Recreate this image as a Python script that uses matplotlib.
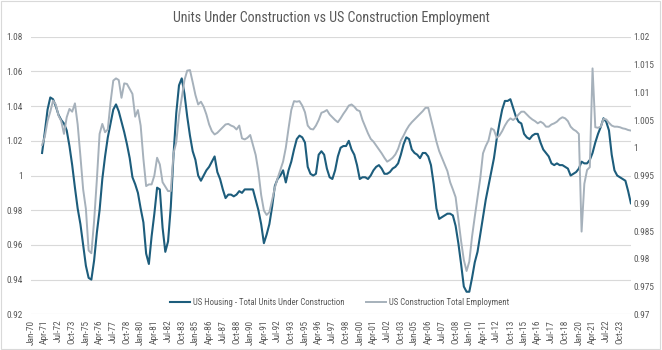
import numpy as np
import pandas as pd
import matplotlib
matplotlib.use("Agg")
import matplotlib.pyplot as plt
from matplotlib import font_manager as fm
from matplotlib.patches import Rectangle

# narrow font if one is installed, otherwise Liberation Sans
fonts = fm.fontManager.ttflist
names = {f.name for f in fonts}
family, stretch = "Liberation Sans", "normal"
for cand in ["Liberation Sans Narrow", "Roboto Condensed", "Open Sans Condensed",
             "Noto Sans Condensed", "DejaVu Sans Condensed"]:
    if cand in names:
        family = cand
        break
else:
    for f in fonts:
        fn = f.fname
        if ("Condensed" in fn or "Narrow" in fn) and not any(
                k in fn for k in ("Bold", "Oblique", "Italic", "Light", "Thin", "Black", "Medium", "Semi", "Extra")):
            family, stretch = f.name, "condensed"
            break
plt.rcParams["font.family"] = [family, "DejaVu Sans"]
plt.rcParams["font.stretch"] = stretch

# monthly category axis Jan-70 .. Oct-24, labelled every 15 months
first_month = "1970-01"
n_months = 658
label_step = 15

# quarterly readings (Jan, Apr, Jul, Oct), 1971 .. 2024
first_quarter = "1971-01"
units_under_construction = [
    1.013, 1.025, 1.038, 1.045,   # 1971
    1.044, 1.040, 1.035, 1.032,
    1.030, 1.026, 1.017, 1.006,
    0.993, 0.981, 0.972, 0.960,
    0.948, 0.941, 0.940, 0.951,   # 1975
    0.967, 0.980, 0.998, 1.011,
    1.022, 1.030, 1.038, 1.041,
    1.037, 1.031, 1.025, 1.018,
    1.010, 0.999, 0.995, 0.990,
    0.981, 0.973, 0.955, 0.949,   # 1980
    0.965, 0.978, 0.993, 0.992,
    0.970, 0.956, 0.962, 0.982,
    1.012, 1.036, 1.052, 1.056,
    1.047, 1.034, 1.023, 1.014,
    1.009, 1.000, 0.997, 1.000,   # 1985
    1.003, 1.005, 1.008, 1.011,
    1.002, 0.998, 0.992, 0.987,
    0.989, 0.989, 0.988, 0.989,
    0.991, 0.990, 0.992, 0.992,
    0.992, 0.992, 0.986, 0.980,   # 1990
    0.972, 0.961, 0.966, 0.972,
    0.982, 0.994, 0.998, 1.000,
    1.003, 0.996, 1.003, 1.008,
    1.015, 1.021, 1.023, 1.022,
    1.019, 1.005, 1.001, 1.000,   # 1995
    1.001, 1.012, 1.014, 1.012,
    1.004, 0.999, 0.998, 1.003,
    1.011, 1.016, 1.017, 1.017,
    1.020, 1.015, 1.012, 1.006,
    0.998, 0.999, 0.999, 0.998,   # 2000
    1.000, 1.003, 1.005, 1.006,
    1.004, 1.001, 1.001, 1.002,
    1.004, 1.005, 1.007, 1.012,
    1.018, 1.022, 1.021, 1.015,
    1.013, 1.012, 1.010, 1.013,   # 2005
    1.013, 1.011, 1.006, 0.995,
    0.981, 0.975, 0.976, 0.977,
    0.978, 0.978, 0.977, 0.971,
    0.961, 0.949, 0.936, 0.933,
    0.933, 0.941, 0.950, 0.956,   # 2010
    0.966, 0.976, 0.986, 0.994,
    1.002, 1.010, 1.021, 1.030,
    1.038, 1.043, 1.043, 1.044,
    1.039, 1.034, 1.031, 1.030,
    1.024, 1.022, 1.021, 1.023,   # 2015
    1.024, 1.024, 1.019, 1.015,
    1.013, 1.011, 1.007, 1.006,
    1.007, 1.006, 1.006, 1.005,
    1.004, 1.000, 1.001, 1.002,
    1.004, 1.008, 1.007, 1.007,   # 2020
    1.009, 1.013, 1.019, 1.024,
    1.028, 1.033, 1.031, 1.026,
    1.012, 1.003, 1.000, 0.999,
    0.998, 0.997, 0.991, 0.984,   # 2024
]
construction_employment = [
    1.0005, 1.0020, 1.0048, 1.0065,   # 1971
    1.0085, 1.0078, 1.0058, 1.0048,
    1.0025, 1.0055, 1.0070, 1.0065,
    1.0080, 1.0042, 0.9985, 0.9925,
    0.9890, 0.9815, 0.9810, 0.9868,   # 1975
    0.9942, 1.0025, 1.0043, 1.0028,
    1.0033, 1.0082, 1.0121, 1.0125,
    1.0122, 1.0090, 1.0116, 1.0115,
    1.0106, 1.0097, 1.0056, 1.0068,
    1.0040, 0.9980, 0.9931, 0.9934,   # 1980
    0.9934, 0.9950, 0.9982, 0.9970,
    0.9938, 0.9930, 0.9922, 0.9922,
    0.9990, 1.0010, 1.0058, 1.0090,
    1.0122, 1.0139, 1.0140, 1.0118,
    1.0095, 1.0078, 1.0083, 1.0074,   # 1985
    1.0060, 1.0042, 1.0030, 1.0024,
    1.0027, 1.0032, 1.0037, 1.0042,
    1.0043, 1.0040, 1.0038, 1.0033,
    1.0040, 1.0017, 1.0015, 1.0018,
    1.0023, 1.0005, 0.9987, 0.9957,   # 1990
    0.9915, 0.9887, 0.9879, 0.9884,
    0.9906, 0.9928, 0.9945, 0.9960,
    0.9975, 1.0000, 1.0035, 1.0068,
    1.0084, 1.0083, 1.0084, 1.0076,
    1.0064, 1.0040, 1.0034, 1.0033,   # 1995
    1.0040, 1.0050, 1.0063, 1.0065,
    1.0068, 1.0060, 1.0055, 1.0050,
    1.0046, 1.0053, 1.0061, 1.0068,
    1.0076, 1.0078, 1.0074, 1.0068,
    1.0066, 1.0050, 1.0038, 1.0026,   # 2000
    1.0016, 1.0011, 1.0004, 0.9997,
    0.9990, 0.9982, 0.9975, 0.9978,
    0.9982, 0.9988, 0.9998, 1.0013,
    1.0022, 1.0032, 1.0040, 1.0046,
    1.0051, 1.0056, 1.0061, 1.0066,   # 2005
    1.0072, 1.0072, 1.0052, 1.0032,
    1.0011, 0.9994, 0.9982, 0.9970,
    0.9958, 0.9938, 0.9925, 0.9911,
    0.9872, 0.9832, 0.9798, 0.9778,
    0.9795, 0.9840, 0.9876, 0.9910,   # 2010
    0.9945, 0.9990, 1.0003, 1.0013,
    1.0035, 1.0032, 1.0018, 1.0022,
    1.0030, 1.0040, 1.0048, 1.0053,
    1.0050, 1.0054, 1.0060, 1.0065,
    1.0065, 1.0060, 1.0055, 1.0051,   # 2015
    1.0048, 1.0044, 1.0047, 1.0044,
    1.0038, 1.0038, 1.0042, 1.0044,
    1.0047, 1.0052, 1.0055, 1.0053,
    1.0048, 1.0038, 1.0033, 1.0030,
    1.0025, 0.9849, 0.9935, 0.9960,   # 2020
    0.9965, 1.0143, 1.0037, 1.0036,
    1.0038, 1.0052, 1.0051, 1.0045,
    1.0040, 1.0038, 1.0038, 1.0037,
    1.0035, 1.0034, 1.0032, 1.0031,   # 2024
]

title = "Units Under Construction vs US Construction Employment"
name_units = "US Housing - Total Units Under Construction"
name_emp = "US Construction Total Employment"
left_ticks = [0.92, 0.94, 0.96, 0.98, 1.0, 1.02, 1.04, 1.06, 1.08]
right_ticks = [0.97, 0.975, 0.98, 0.985, 0.99, 0.995, 1.0, 1.005, 1.01, 1.015, 1.02]

months = pd.date_range(first_month, periods=n_months, freq="MS")
quarters = pd.date_range(first_quarter, periods=len(units_under_construction), freq="QS")
start = months[0]
xq = np.array([(d.year - start.year) * 12 + d.month - start.month for d in quarters])

teal = "#1d5d7c"
grey = "#a6b1bb"
txt = "#595959"
grid = "#d9d9d9"

fig = plt.figure(figsize=(6.62, 3.5), dpi=100)

# size the title so it is as wide as in the reference (~320 px), scale other text alike
ttl = fig.text(0.5, 0.948, title, ha="center", va="center", fontsize=10.5, color=txt)
fig.canvas.draw()
w = ttl.get_window_extent().width
r = min(1.0, 320.0 / w)
ttl.set_fontsize(10.5 * r)
small = max(5.3, 7.0 * r)

ax = fig.add_axes([0.047, 0.102, 0.906, 0.793])
ax2 = ax.twinx()

ax.plot(xq, units_under_construction, color=teal, lw=1.5, label=name_units)
ax2.plot(xq, construction_employment, color=grey, lw=1.4, label=name_emp)

ax.set_xlim(0, n_months - 1)
ax.set_ylim(0.92, 1.08)
ax2.set_ylim(0.97, 1.02)
ax.set_yticks(left_ticks)
ax2.set_yticks(right_ticks)
fmt = lambda v: ("%g" % round(v, 3))
ax.set_yticklabels([fmt(v) for v in left_ticks])
ax2.set_yticklabels([fmt(v) for v in right_ticks])

pos = np.arange(0, n_months, label_step)
ax.set_xticks(pos)
ax.set_xticklabels([months[i].strftime("%b-%y") for i in pos], rotation=90)

ax.grid(axis="y", color=grid, lw=0.8)
ax.set_axisbelow(True)
for a in (ax, ax2):
    for s in a.spines.values():
        s.set_visible(False)
    a.tick_params(length=0, labelsize=small, labelcolor=txt)
ax.tick_params(axis="y", pad=6)
ax2.tick_params(axis="y", pad=2)
ax.tick_params(axis="x", pad=4)

h1, l1 = ax.get_legend_handles_labels()
h2, l2 = ax2.get_legend_handles_labels()
leg = ax2.legend(h1 + h2, l1 + l2, loc="center", bbox_to_anchor=(0.514, 0.044),
                 ncol=2, frameon=False, fontsize=small * 0.94, handlelength=2.3,
                 columnspacing=2.4, handletextpad=0.35)
for t in leg.get_texts():
    t.set_color(txt)

fig.patches.append(Rectangle((0.002, 0.003), 0.995, 0.993, transform=fig.transFigure,
                             fill=False, edgecolor=grid, lw=0.8))

fig.savefig("out.png", dpi=100)
